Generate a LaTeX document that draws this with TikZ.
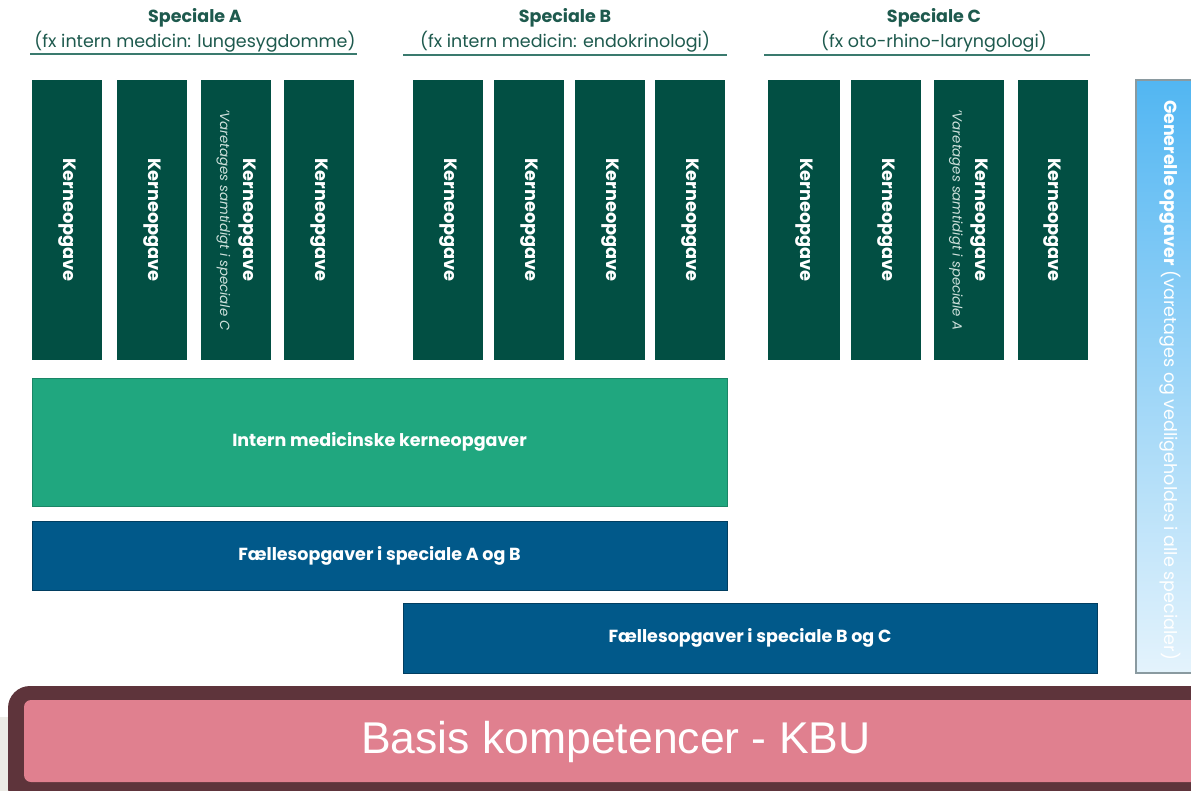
\documentclass[tikz,border=0pt]{standalone}
\usepackage{fontspec}
\setmainfont{Poppins}
\newfontfamily\arialfont{Liberation Sans}
\definecolor{dgreen}{HTML}{024F43}
\definecolor{mgreen}{HTML}{20A77F}
\definecolor{dblue}{HTML}{01598A}
\definecolor{titlecol}{HTML}{1E5A4E}
\definecolor{linecol}{HTML}{3A7A6E}
\definecolor{pinkfill}{HTML}{E0808F}
\definecolor{maroon}{HTML}{5E343B}
\definecolor{gborder}{HTML}{8A9AA0}
\definecolor{skytop}{HTML}{52B6F2}
\definecolor{skybot}{HTML}{E4F3FC}
\definecolor{greybg}{HTML}{ECEBE6}
\definecolor{notecol}{HTML}{D0E2DD}
\newcommand\mynotefont{\fontsize{13.3}{15}\selectfont\itshape\mdseries\color{notecol}}
\tikzset{
  kbox/.style={rectangle, fill=dgreen, rotate=-90, minimum width=280pt, minimum height=70pt, inner sep=0pt, text=white, font=\fontsize{17.8}{19}\selectfont\bfseries, align=center},
  wide/.style={rectangle, inner sep=0pt, text=white, font=\fontsize{17.5}{19}\selectfont\bfseries},
  ttl/.style={text=titlecol, align=center, inner sep=0pt},
  tline/.style={draw=linecol, line width=1.6pt}
}
\begin{document}
\begin{tikzpicture}[x=1pt,y=-1pt]
\useasboundingbox (0,0) rectangle (1191,791);
\fill[white] (0,0) rectangle (1191,791);

% titles
\node[ttl, font=\fontsize{17.5}{19}\selectfont\bfseries] (tA) at (195,18) {Speciale A};
\node[ttl, font=\fontsize{17.5}{19}\selectfont] (sA) at (195,42) {(fx intern medicin: lungesygdomme)};
\draw[tline] (30,54) -- (357,54);
\node[ttl, font=\fontsize{17.5}{19}\selectfont\bfseries] (tB) at (565,18) {Speciale B};
\node[ttl, font=\fontsize{17.5}{19}\selectfont] (sB) at (565,42) {(fx intern medicin: endokrinologi)};
\draw[tline] (403,55) -- (727,55);
\node[ttl, font=\fontsize{17.5}{19}\selectfont\bfseries] (tC) at (934,18) {Speciale C};
\node[ttl, font=\fontsize{17.5}{19}\selectfont] (sC) at (934,42) {(fx oto-rhino-laryngologi)};
\draw[tline] (764,55) -- (1090,55);

% Speciale A columns
\node[kbox] (a1) at (67,220) {Kerneopgave};
\node[kbox] (a2) at (152,220) {Kerneopgave};
\node[kbox] (a3) at (236,220) {Kerneopgave\\[4pt]{\mynotefont 'Varetages samtidigt i speciale C}};
\node[kbox] (a4) at (319,220) {Kerneopgave};
% Speciale B columns
\node[kbox] (b1) at (448,220) {Kerneopgave};
\node[kbox] (b2) at (529,220) {Kerneopgave};
\node[kbox] (b3) at (610,220) {Kerneopgave};
\node[kbox] (b4) at (690,220) {Kerneopgave};
% Speciale C columns
\node[kbox, minimum height=72pt] (c1) at (804,220) {Kerneopgave};
\node[kbox] (c2) at (886,220) {Kerneopgave};
\node[kbox] (c3) at (968.5,220) {Kerneopgave\\[4pt]{\mynotefont 'Varetages samtidigt i speciale A}};
\node[kbox] (c4) at (1052.5,220) {Kerneopgave};

% wide bars
\node[wide, fill=mgreen, draw=mgreen!80!black, line width=0.5pt, minimum width=695pt, minimum height=128pt] (im) at (379.5,442) {Intern medicinske kerneopgaver};
\node[wide, fill=dblue, draw=dblue!70!black, line width=0.5pt, minimum width=695pt, minimum height=69pt] (fab) at (379.5,555.5) {Fællesopgaver i speciale A og B};
\node[wide, fill=dblue, draw=dblue!70!black, line width=0.5pt, minimum width=694pt, minimum height=70pt] (fbc) at (750,638) {Fællesopgaver i speciale B og C};

% generelle opgaver
\shade[top color=skytop, bottom color=skybot, draw=gborder, line width=1.2pt] (1136,80) rectangle (1200,673);
\node[rotate=-90, text=white, font=\fontsize{17.5}{19}\selectfont, inner sep=0pt] (gen) at (1170,380) {\textbf{Generelle opgaver} (varetages og vedligeholdes i alle specialer)};

% basis
\fill[greybg] (0,717) rectangle (30,791);
\fill[maroon, rounded corners=22pt] (8,686) rectangle (1230,810);
\fill[pinkfill, rounded corners=7pt] (24,700) rectangle (1230,782);
\node[text=white, font=\arialfont\fontsize{44.5}{48}\selectfont, inner sep=0pt] (kbu) at (616,742) {Basis kompetencer - KBU};
\end{tikzpicture}
\end{document}
